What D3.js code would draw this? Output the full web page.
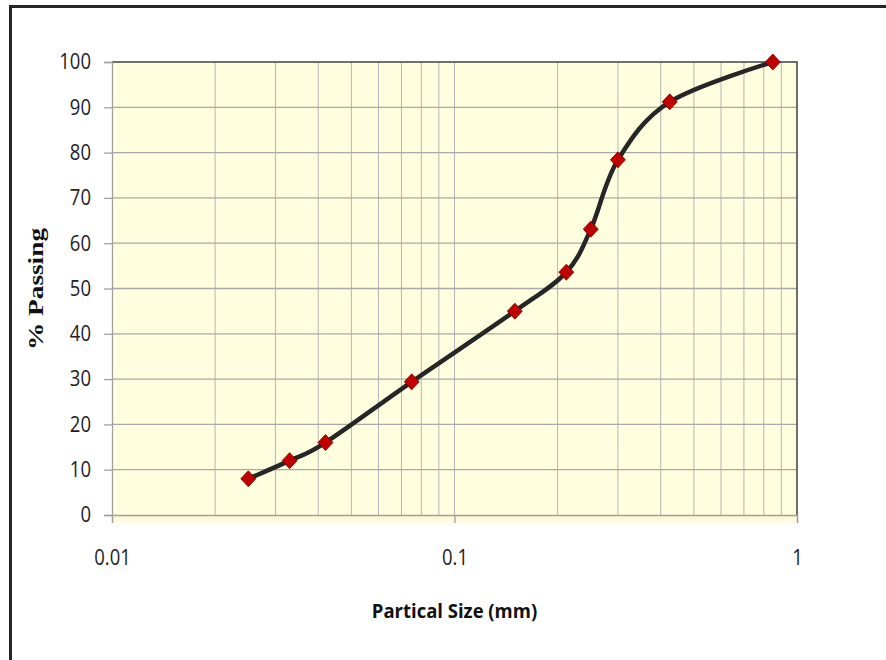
<!DOCTYPE html>
<html>
<head>
<meta charset="utf-8">
<script src="https://cdn.jsdelivr.net/npm/d3@7"></script>
<style>
  body { margin: 0; background: #fff; }
  svg { display: block; }
</style>
</head>
<body>
<svg id="chart" width="886" height="660"></svg>
<script>
// particle size (mm) and % passing
const sizes = [0.025, 0.033, 0.042, 0.075, 0.15, 0.212, 0.25, 0.3, 0.425, 0.85];
const passing = [8, 12, 16, 29.4, 45, 53.6, 63.1, 78.4, 91.2, 100];
const yTicks = [0, 10, 20, 30, 40, 50, 60, 70, 80, 90, 100];
const xTicks = [0.01, 0.1, 1];

const width = 886, height = 660;
const margin = { left: 112, right: 89, top: 62, bottom: 145 };
const tickFont = "'Open Sans', sans-serif";

const svg = d3.select("#chart");

// outer frame (clipped on right/bottom like the source image)
svg.append("rect")
  .attr("x", 10.5).attr("y", 6.5)
  .attr("width", 900).attr("height", 700)
  .attr("fill", "none")
  .attr("stroke", "#262626")
  .attr("stroke-width", 3);

const x = d3.scaleLog().domain([0.01, 1]).range([margin.left, width - margin.right]);
const y = d3.scaleLinear().domain([0, 100]).range([height - margin.bottom, margin.top]);

const x0 = x.range()[0], x1 = x.range()[1];
const y0 = y.range()[0], y1 = y.range()[1];

// soft shadow under plot area
const defs = svg.append("defs");
const grad = defs.append("linearGradient")
  .attr("id", "shadow").attr("x1", 0).attr("y1", 0).attr("x2", 0).attr("y2", 1);
grad.append("stop").attr("offset", "0%").attr("stop-color", "#fbf7c8");
grad.append("stop").attr("offset", "100%").attr("stop-color", "#ffffff");

svg.append("rect")
  .attr("x", x0).attr("y", y0)
  .attr("width", x1 - x0).attr("height", 12)
  .attr("fill", "url(#shadow)");

// plot background
svg.append("rect")
  .attr("x", x0).attr("y", y1)
  .attr("width", x1 - x0).attr("height", y0 - y1)
  .attr("fill", "#ffffe0");

// grid
const minorX = [];
[0.01, 0.1].forEach(dec => { for (let k = 1; k <= 9; k++) minorX.push(dec * k); });

svg.append("g").selectAll("line")
  .data(minorX.filter(v => v > 0.01))
  .join("line")
  .attr("x1", d => x(d)).attr("x2", d => x(d))
  .attr("y1", y1).attr("y2", y0)
  .attr("stroke", "#b4b4b4").attr("stroke-width", 1);

svg.append("g").selectAll("line")
  .data(yTicks.filter(v => v > 0 && v < 100))
  .join("line")
  .attr("x1", x0).attr("x2", x1)
  .attr("y1", d => y(d)).attr("y2", d => y(d))
  .attr("stroke", "#a8a8a8").attr("stroke-width", 1.3);

// plot border top/right
svg.append("path")
  .attr("d", `M${x0},${y1}H${x1}V${y0}`)
  .attr("fill", "none").attr("stroke", "#404040").attr("stroke-width", 1.5);

// y axis
const yAxis = svg.append("g")
  .attr("transform", `translate(${x0},0)`)
  .call(d3.axisLeft(y).tickValues(yTicks).tickSize(8).tickPadding(13));
yAxis.select(".domain").attr("stroke", "#a0a0a0").attr("stroke-width", 1.3);
yAxis.selectAll(".tick line").attr("stroke", "#a0a0a0").attr("stroke-width", 1.3);
yAxis.selectAll(".tick text")
  .attr("font-family", tickFont)
  .attr("font-size", 18.5).attr("fill", "#222")
  .attr("transform", "scale(1,1.15)");

// x axis
const xAxis = svg.append("g")
  .attr("transform", `translate(0,${y0})`)
  .call(d3.axisBottom(x).tickValues(xTicks).tickFormat(d3.format("")).tickSize(8).tickPadding(30));
xAxis.select(".domain").attr("stroke", "#a0a0a0").attr("stroke-width", 1.3);
xAxis.selectAll(".tick line").attr("stroke", "#a0a0a0").attr("stroke-width", 1.3);
xAxis.selectAll(".tick text")
  .attr("font-family", tickFont)
  .attr("font-size", 18.5).attr("fill", "#222")
  .attr("dy", 0).attr("y", 0)
  .attr("transform", "translate(0,50) scale(1,1.15)");

// data line
const pts = sizes.map((s, i) => [s, passing[i]]);

svg.append("path")
  .datum(pts)
  .attr("fill", "none")
  .attr("stroke", "#262626")
  .attr("stroke-width", 4.5)
  .attr("d", d3.line().x(d => x(d[0])).y(d => y(d[1])).curve(d3.curveCardinal.tension(0)));

// diamond markers
svg.append("g").selectAll("path")
  .data(pts)
  .join("path")
  .attr("transform", d => `translate(${x(d[0])},${y(d[1])})`)
  .attr("d", "M0,-8L7.5,0L0,8L-7.5,0Z")
  .attr("fill", "#c00000")
  .attr("stroke", "#7a0000")
  .attr("stroke-width", 0.8);

// axis titles
svg.append("text")
  .attr("transform", `translate(${(x0 + x1) / 2},618) scale(1,1.1)`)
  .attr("text-anchor", "middle")
  .attr("font-family", tickFont)
  .attr("font-weight", "bold")
  .attr("font-size", 18.5)
  .attr("fill", "#111")
  .text("Partical Size (mm)");

svg.append("text")
  .attr("transform", `translate(43,289) rotate(-90) scale(1.3,1)`)
  .attr("text-anchor", "middle")
  .attr("font-family", "'Liberation Serif', 'Times New Roman', serif")
  .attr("font-weight", "bold")
  .attr("font-size", 21)
  .attr("fill", "#111")
  .text("% Passing");
</script>
</body>
</html>
